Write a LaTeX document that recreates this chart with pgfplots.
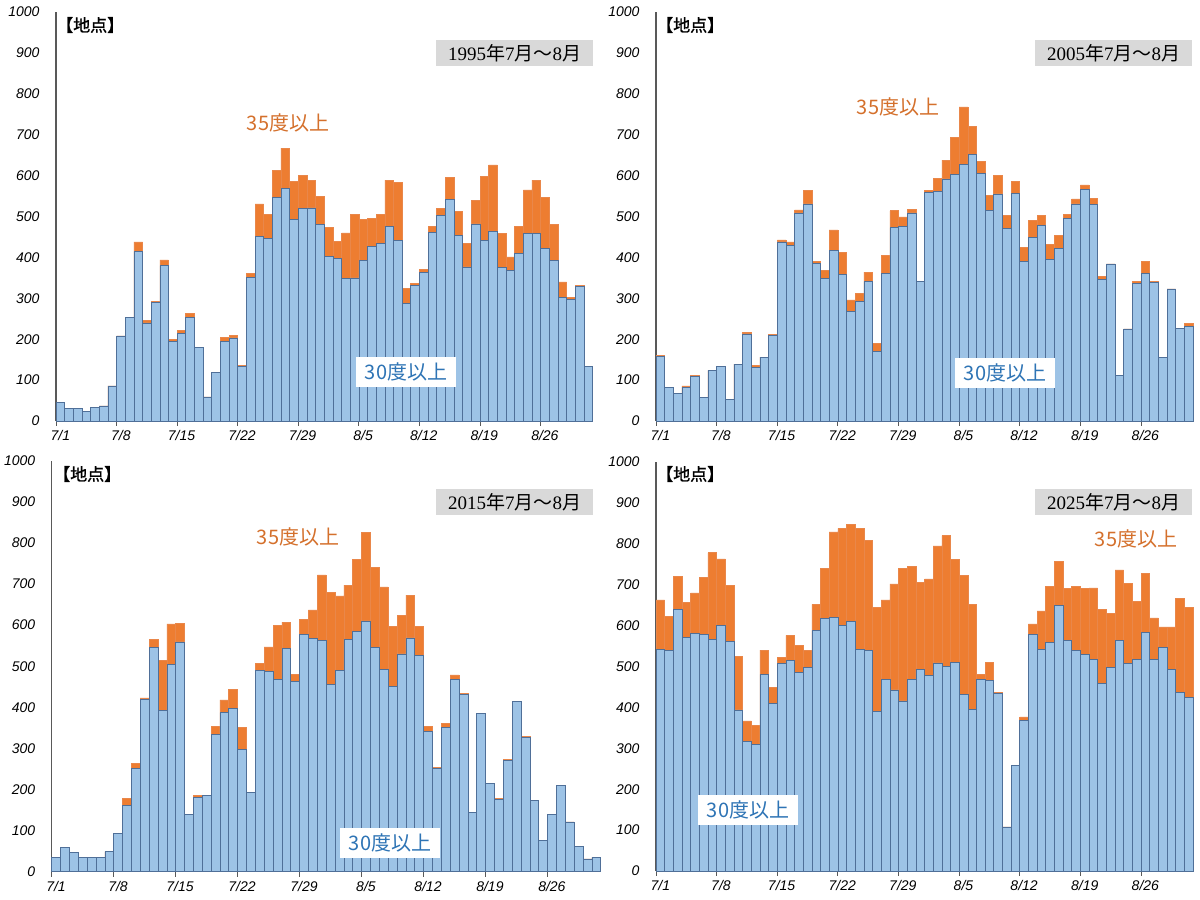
\documentclass[border=0pt]{standalone}
\usepackage{pgfplots}
\pgfplotsset{compat=1.18}
\usepackage{pgfplotstable}
\usepackage{fontspec}
\setmainfont{Liberation Sans}
\newfontfamily\cjk{Noto Sans CJK JP}
\newfontfamily\cjkb[FakeBold=1.3]{Noto Sans CJK JP}
\newfontfamily\tnum{Liberation Serif}
\definecolor{barblue}{HTML}{9DC3E6}
\definecolor{baredge}{HTML}{4F6F98}
\definecolor{barorange}{HTML}{ED7D31}
\definecolor{orangeedge}{HTML}{E9874A}
\definecolor{axisgray}{HTML}{595959}
\definecolor{boxgray}{HTML}{D9D9D9}
\definecolor{txtorange}{HTML}{D4702C}
\definecolor{txtblue}{HTML}{2E74B5}

% columns: b = 30度以上 (blue), t = top of orange bar (30度以上 + 35度以上 part)
\pgfplotstableread{
b t
45 45
31 31
31 31
24 24
34 34
37 37
86 86
208 208
254 254
414 438
240 246
290 293
380 394
194 200
214 222
254 264
180 180
59 59
119 119
194 205
203 209
133 136
351 361
452 531
447 506
547 613
569 667
493 585
519 600
521 588
481 549
403 474
397 440
348 460
350 506
393 492
427 496
434 506
475 589
442 584
288 324
331 336
364 371
461 475
502 520
542 595
453 512
377 434
482 540
442 599
463 626
375 458
368 401
410 476
459 565
459 589
422 547
393 481
303 340
298 302
329 332
133 133
}\dataA

\pgfplotstableread{
b t
157 161
83 83
68 68
82 86
109 111
57 57
124 124
134 134
53 53
139 139
213 217
132 135
156 156
209 211
438 443
430 438
509 516
531 564
385 390
348 368
418 467
358 412
267 296
292 311
341 364
170 189
361 405
473 514
475 499
509 518
341 341
558 564
561 593
592 638
603 694
628 768
652 721
605 635
515 551
555 600
471 502
557 586
390 425
449 490
478 503
395 432
422 454
496 505
531 543
566 577
530 544
346 354
384 384
112 112
225 225
337 342
361 390
339 341
156 156
323 323
227 227
232 238
}\dataB

\pgfplotstableread{
b t
35 35
59 59
47 47
34 34
34 34
34 34
49 49
94 94
161 179
251 263
420 423
546 566
393 515
504 603
559 604
139 140
181 185
185 185
334 354
387 418
397 444
298 351
192 192
489 507
488 547
467 599
543 607
463 480
577 614
568 637
563 722
456 680
490 671
565 697
584 760
610 826
546 740
492 693
451 597
530 624
569 673
526 596
342 354
251 254
351 360
467 479
431 434
144 144
385 385
214 214
176 178
270 273
414 415
327 330
174 174
77 77
140 140
210 210
121 121
62 62
31 31
35 35
}\dataC

\pgfplotstableread{
b t
541 663
540 622
640 720
571 656
580 680
578 718
566 778
600 763
562 698
394 525
316 367
310 356
481 540
410 449
508 523
514 576
485 551
498 540
588 652
617 740
621 829
601 838
610 848
541 838
540 808
391 645
468 663
443 702
416 740
468 745
492 705
479 714
509 795
500 820
510 761
432 722
395 651
469 481
466 510
435 437
108 108
259 259
368 377
579 604
542 636
559 695
649 757
564 691
540 696
530 691
517 692
459 640
497 629
563 736
507 704
517 660
583 727
517 619
547 597
492 597
436 667
424 644
}\dataD

\pgfplotsset{
 panel/.style={
  scale only axis,
  xmin=-0.5, xmax=61.5, ymin=0, ymax=1000,
  axis x line*=bottom, axis y line*=left,
  axis line style={draw=axisgray, line width=1.1pt},
  xtick={-0.5,6.5,13.5,20.5,27.5,34.5,41.5,48.5,55.5},
  xticklabels={7/1,7/8,7/15,7/22,7/29,8/5,8/12,8/19,8/26},
  ytick={0,100,200,300,400,500,600,700,800,900,1000},
  tick align=outside, major tick length=5pt,
  xtick style={draw=axisgray, line width=1pt},
  ytick style={draw=none},
  x tick label style={font=\itshape\fontsize{14}{14}\selectfont, xshift=4.33pt, yshift=-1pt},
  y tick label style={font=\itshape\fontsize{14}{14}\selectfont, xshift=-8pt},
  /pgf/number format/assume math mode=true,
  /pgf/number format/1000 sep={},
  ybar, clip=false,
 },
 ob/.style={fill=barorange, draw=orangeedge, line width=0.6pt, bar width=1, bar shift=0pt},
 bb/.style={fill=barblue, draw=baredge, line width=0.6pt, bar width=1, bar shift=0pt},
}

\newcommand{\ttl}[1]{\fontsize{19}{20}\selectfont{\tnum #1}{\cjk 年}{\tnum 7}{\cjk 月～}{\tnum 8}{\cjk 月}}
\newcommand{\unit}{\cjkb\fontsize{17}{18}\selectfont 【地点】}
\newcommand{\lab}[1]{\cjk\fontsize{20}{22}\selectfont #1}

\begin{document}
\begin{tikzpicture}[x=1pt,y=1pt]
\useasboundingbox (0,0) rectangle (1200,900);

% 1995
\begin{axis}[panel, width=536.5pt, height=409pt, at={(56pt,479pt)}, anchor=south west]
\addplot[ob] table[x expr=\coordindex, y=t] {\dataA};
\addplot[bb] table[x expr=\coordindex, y=b] {\dataA};
\end{axis}
% 2005
\begin{axis}[panel, width=537pt, height=409pt, at={(656pt,479pt)}, anchor=south west]
\addplot[ob] table[x expr=\coordindex, y=t] {\dataB};
\addplot[bb] table[x expr=\coordindex, y=b] {\dataB};
\end{axis}
% 2015
\begin{axis}[panel, width=549pt, height=411pt, at={(51.7pt,28.3pt)}, anchor=south west]
\addplot[ob] table[x expr=\coordindex, y=t] {\dataC};
\addplot[bb] table[x expr=\coordindex, y=b] {\dataC};
\end{axis}
% 2025
\begin{axis}[panel, width=537pt, height=409pt, at={(656pt,29pt)}, anchor=south west]
\addplot[ob] table[x expr=\coordindex, y=t] {\dataD};
\addplot[bb] table[x expr=\coordindex, y=b] {\dataD};
\end{axis}

% unit labels
\node[anchor=west, inner sep=0pt] at (56pt,875pt) {\unit};
\node[anchor=west, inner sep=0pt] at (656pt,875pt) {\unit};
\node[anchor=west, inner sep=0pt] at (53pt,426pt) {\unit};
\node[anchor=west, inner sep=0pt] at (656pt,426pt) {\unit};

% title boxes
\node[fill=boxgray, minimum width=157pt, minimum height=26pt, inner sep=0pt] at (514.5pt,847pt) {\ttl{1995}};
\node[fill=boxgray, minimum width=157pt, minimum height=26pt, inner sep=0pt] at (1113.5pt,847pt) {\ttl{2005}};
\node[fill=boxgray, minimum width=157pt, minimum height=26pt, inner sep=0pt] at (514.5pt,397.5pt) {\ttl{2015}};
\node[fill=boxgray, minimum width=157pt, minimum height=26pt, inner sep=0pt] at (1113.5pt,397.5pt) {\ttl{2025}};

% 35 labels
\node[text=txtorange, inner sep=0pt] at (288pt,777pt) {\lab{35度以上}};
\node[text=txtorange, inner sep=0pt] at (898pt,793pt) {\lab{35度以上}};
\node[text=txtorange, inner sep=0pt] at (298pt,363pt) {\lab{35度以上}};
\node[text=txtorange, inner sep=0pt] at (1136pt,361pt) {\lab{35度以上}};

% 30 labels
\node[fill=white, text=txtblue, minimum width=100pt, minimum height=30pt, inner sep=0pt] at (406pt,528pt) {\lab{30度以上}};
\node[fill=white, text=txtblue, minimum width=100pt, minimum height=30pt, inner sep=0pt] at (1005pt,527pt) {\lab{30度以上}};
\node[fill=white, text=txtblue, minimum width=100pt, minimum height=30pt, inner sep=0pt] at (390pt,57pt) {\lab{30度以上}};
\node[fill=white, text=txtblue, minimum width=100pt, minimum height=30pt, inner sep=0pt] at (748pt,90pt) {\lab{30度以上}};
\end{tikzpicture}
\end{document}
